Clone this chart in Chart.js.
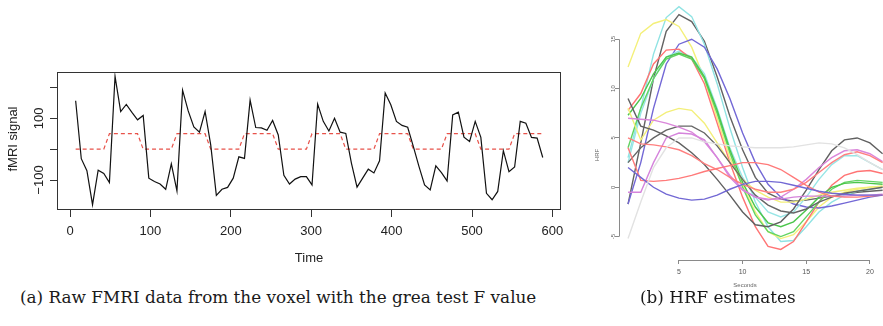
<!DOCTYPE html>
<html>
<head>
<meta charset="utf-8">
<script src="https://cdn.jsdelivr.net/npm/chart.js@4.4.1/dist/chart.umd.min.js"></script>
<style>
  html, body { margin: 0; padding: 0; background: #fff; }
  #wrap { position: relative; width: 883px; height: 326px; overflow: hidden; background: #fff; }
  #cA { position: absolute; left: 0; top: 0; }
  #cB { position: absolute; left: 590px; top: 0; filter: blur(0.55px); }
  .cap { position: absolute; font-family: "DejaVu Serif", serif; color: #1a1a1a; white-space: nowrap; line-height: 1; }
</style>
</head>
<body>
<div id="wrap">
  <canvas id="cA" width="600" height="280"></canvas>
  <canvas id="cB" width="293" height="300"></canvas>
  <div class="cap" id="capA" style="left:20px; top:289px;">(a) Raw FMRI data from the voxel with the grea test F value</div>
  <div class="cap" id="capB" style="left:640px; top:289px;">(b) HRF estimates</div>
</div>
<script>
// ---------- Panel (a) data ----------
const times = [7,14,21,28,35,42,49,56,63,70,77,84,91,98,105,112,119,126,133,140,147,154,161,168,
  175,182,189,196,203,210,217,224,231,238,245,252,259,266,273,280,287,294,301,308,315,322,329,336,
  343,350,357,364,371,378,385,392,399,406,413,420,427,434,441,448,455,462,469,476,483,490,497,504,
  511,518,525,532,539,546,553,560,567,574,581,588];
const fmriSignal = [157,-31,-70,-180,-68,-79,-108,236,122,145,119,95,109,-94,-105,-113,-130,-48,-135,191,
  124,72,55,122,14,-150,-130,-124,-94,-25,-30,159,70,69,61,93,46,-85,-113,-97,-89,-89,-116,146,
  90,59,100,55,51,-45,-123,-94,-65,-77,-38,182,144,90,77,71,9,-56,-116,-132,-54,-76,-103,111,
  120,39,25,90,38,-143,-164,-137,-5,-73,-58,90,84,38,36,-27];
const stimulus = [0,0,0,0,0,0,50,50,50,50,50,50, 0,0,0,0,0,0,50,50,50,50,50,50,
  0,0,0,0,0,0,50,50,50,50,50,50, 0,0,0,0,0,0,50,50,50,50,50,50,
  0,0,0,0,0,0,50,50,50,50,50,50, 0,0,0,0,0,0,50,50,50,50,50,50,
  0,0,0,0,0,0,50,50,50,50,50,50];
const timeTicks = [0,100,200,300,400,500,600];
const signalTicks = [-100,0,100,200];
const signalTickLabels = {"100":"100","-100":"\u2212100"};

// ---------- Panel (b) data ----------
const seconds = [1,2,3,4,5,6,7,8,9,10,11,12,13,14,15,16,17,18,19,20,21];
const hrfYellowTall = [12.2,15.6,16.6,17.0,16.3,14.2,11.0,7.0,3.0,0.2,-2.5,-4.5,-5.2,-4.8,-3.5,-2.0,-1.0,-0.5,-0.2,0.0,0.1];
const hrfYellowSmall = [8.0,4.8,6.8,7.6,8.0,7.8,6.5,4.5,2.5,0.8,-0.3,-1.0,-1.5,-1.5,-1.2,-0.8,-0.5,-0.3,-0.1,0.0,0.1];
const hrfCyanTall = [3.0,8.0,13.5,17.2,18.3,17.3,14.5,10.5,6.0,2.0,-1.5,-4.0,-5.5,-5.4,-4.0,-2.5,-1.5,-0.8,-0.4,-0.2,0.0];
const hrfCyanMid = [2.5,7.5,11.0,13.2,13.8,13.2,11.5,8.0,4.0,1.0,-1.0,-2.5,-3.0,-2.5,-1.0,0.8,2.3,3.2,3.2,2.5,1.8];
const hrfBlackTall = [-1.7,4.5,11.0,15.8,17.5,16.8,14.8,11.2,7.2,3.8,1.0,-0.6,-1.2,-1.4,-1.3,-1.1,-0.9,-0.7,-0.5,-0.4,-0.3];
const hrfBlackHigh = [9.0,6.2,5.8,5.2,4.5,3.5,2.3,0.8,-0.8,-2.5,-3.8,-4.0,-3.5,-2.2,-0.3,1.8,3.7,4.8,5.0,4.5,3.4];
const hrfBlackSmall = [2.5,4.0,5.0,5.8,6.2,6.2,5.5,4.2,2.5,0.8,-0.8,-1.8,-2.4,-2.6,-2.2,-1.5,-1.0,-0.6,-0.4,-0.2,0.0];
const hrfRedTall = [7.8,9.5,12.5,13.9,14.0,13.0,10.5,6.5,2.5,-1.0,-4.0,-6.0,-6.3,-5.5,-3.5,-1.5,0.2,1.2,1.6,1.7,1.4];
const hrfRedFlat = [5.0,4.4,4.3,4.1,3.8,3.2,2.4,1.8,1.0,0.3,-0.2,-0.5,-0.5,-0.2,0.5,1.5,2.5,3.3,3.6,3.2,2.5];
const hrfRedHump = [4.0,0.7,0.6,0.7,0.9,1.2,1.6,1.9,2.2,2.5,2.5,2.3,1.8,1.0,0.2,-0.5,-0.9,-1.0,-1.0,-0.9,-0.8];
const hrfGreenA = [4.0,8.0,11.0,13.0,13.5,13.0,11.0,7.5,3.5,0.0,-2.8,-4.5,-5.0,-4.5,-3.0,-1.5,-0.2,0.5,0.7,0.6,0.5];
const hrfGreenB = [7.3,9.0,11.5,13.2,13.6,13.2,11.2,7.8,3.8,0.5,-2.0,-3.6,-4.0,-3.5,-2.3,-1.0,0.0,0.4,0.5,0.4,0.3];
const hrfBlueTall = [-1.7,2.5,8.0,12.5,14.5,15.0,14.2,12.0,9.0,5.5,2.5,0.3,-1.0,-1.7,-2.0,-2.1,-1.9,-1.6,-1.3,-1.0,-0.8];
const hrfBlueSmall = [2.0,1.0,0.0,-0.7,-1.1,-1.3,-1.2,-0.8,-0.2,0.3,0.6,0.6,0.5,0.2,-0.1,-0.4,-0.6,-0.7,-0.8,-0.8,-0.8];
const hrfMagentaA = [7.0,6.9,6.8,6.5,6.1,5.6,4.6,3.0,1.2,-0.2,-1.0,-1.3,-1.0,-0.2,0.8,2.0,3.0,3.7,3.8,3.4,2.6];
const hrfMagentaB = [-0.5,-0.5,2.5,5.0,5.5,5.4,4.8,3.0,1.0,-0.3,-1.0,-1.2,-1.2,-1.0,-0.9,-0.9,-0.9,-0.9,-0.8,-0.8,-0.7];
const hrfLightGray = [-5.2,-1.5,2.0,4.0,5.0,5.0,4.6,4.4,4.2,4.1,4.0,4.0,4.0,4.1,4.3,4.5,4.4,4.0,3.3,2.5,1.8];
const secondsTicks = [5,10,15,20];
const hrfTicks = [-5,0,5,10,15];

// ---------- Panel (a) chart ----------
const panelA = {
  id: 'panelA',
  afterDraw(chart) {
    const {ctx, chartArea: a} = chart;
    ctx.save();
    ctx.strokeStyle = '#333';
    ctx.lineWidth = 1;
    ctx.strokeRect(a.left + 0.5, a.top + 0.5, a.right - a.left - 1, a.bottom - a.top - 1);
    ctx.fillStyle = '#222';
    ctx.font = '13px "Liberation Sans", Arial, sans-serif';
    ctx.textAlign = 'center';
    ctx.textBaseline = 'middle';
    const ys = chart.scales.y;
    Object.keys(signalTickLabels).forEach(k => {
      const py = ys.getPixelForValue(Number(k));
      ctx.save();
      ctx.translate(39, py);
      ctx.rotate(-Math.PI / 2);
      ctx.fillText(signalTickLabels[k], 0, 0);
      ctx.restore();
    });
    ctx.save();
    ctx.translate(13, 139);
    ctx.rotate(-Math.PI / 2);
    ctx.fillText('fMRI signal', 0, 0);
    ctx.restore();
    ctx.fillText('Time', 309, 258);
    ctx.restore();
  }
};

new Chart(document.getElementById('cA'), {
  type: 'line',
  data: {
    datasets: [
      { data: times.map((t, i) => ({x: t, y: fmriSignal[i]})), borderColor: '#111', borderWidth: 1.2,
        pointRadius: 0, tension: 0, fill: false },
      { data: times.map((t, i) => ({x: t, y: stimulus[i]})), borderColor: '#e8524a', borderWidth: 1.2,
        borderDash: [4, 3], pointRadius: 0, tension: 0, fill: false }
    ]
  },
  options: {
    responsive: false, animation: false, devicePixelRatio: 1,
    layout: { padding: { top: 72, right: 39, left: 0, bottom: 0 } },
    plugins: { legend: { display: false }, tooltip: { enabled: false } },
    scales: {
      x: {
        type: 'linear', min: -16.2, max: 610.7,
        afterBuildTicks: s => { s.ticks = timeTicks.map(v => ({value: v})); },
        afterFit: s => { s.height = 70; },
        ticks: { color: '#222', font: { family: '"Liberation Sans", Arial, sans-serif', size: 13 }, padding: 7, maxRotation: 0, autoSkip: false },
        grid: { display: true, drawOnChartArea: false, drawTicks: true, tickLength: 7, color: '#333', lineWidth: 1 },
        border: { display: false }
      },
      y: {
        type: 'linear', min: -197.2, max: 250,
        afterBuildTicks: s => { s.ticks = signalTicks.map(v => ({value: v})); },
        afterFit: s => { s.width = 57; },
        ticks: { display: false },
        grid: { display: true, drawOnChartArea: false, drawTicks: true, tickLength: 7, color: '#333', lineWidth: 1 },
        border: { display: false }
      }
    }
  },
  plugins: [panelA]
});

// ---------- Panel (b) chart ----------
const axisColor = '#8a8a8a';
const panelB = {
  id: 'panelB',
  afterDraw(chart) {
    const {ctx} = chart;
    const xs = chart.scales.x, ys = chart.scales.y;
    ctx.save();
    ctx.strokeStyle = axisColor;
    ctx.lineWidth = 1;
    const axY = Math.round(ys.bottom) + 0.5;
    ctx.beginPath();
    ctx.moveTo(xs.getPixelForValue(secondsTicks[0]), axY);
    ctx.lineTo(xs.getPixelForValue(secondsTicks[secondsTicks.length - 1]), axY);
    ctx.stroke();
    const axX = Math.round(xs.left) + 0.5;
    ctx.beginPath();
    ctx.moveTo(axX, ys.getPixelForValue(hrfTicks[0]));
    ctx.lineTo(axX, ys.getPixelForValue(hrfTicks[hrfTicks.length - 1]));
    ctx.stroke();
    ctx.fillStyle = '#666';
    ctx.font = '6px "Liberation Sans", Arial, sans-serif';
    ctx.textAlign = 'center';
    ctx.textBaseline = 'middle';
    hrfTicks.forEach(v => {
      ctx.save();
      ctx.translate(axX - 6.5, ys.getPixelForValue(v));
      ctx.rotate(-Math.PI / 2);
      ctx.fillText(String(v), 0, 0);
      ctx.restore();
    });
    ctx.save();
    ctx.translate(7, 155);
    ctx.rotate(-Math.PI / 2);
    ctx.fillText('HRF', 0, 0);
    ctx.restore();
    ctx.fillText('Seconds', 745 - 590, 285);
    ctx.restore();
  }
};

const hrfSeries = [
  [hrfLightGray, '#e2e2e2'],
  [hrfBlueSmall, '#7268d4'],
  [hrfRedHump, '#ff7a7a'],
  [hrfRedFlat, '#ff8080'],
  [hrfMagentaB, '#d584dc'],
  [hrfMagentaA, '#da86da'],
  [hrfBlackSmall, '#666666'],
  [hrfBlackHigh, '#606060'],
  [hrfYellowSmall, '#f3ef7a'],
  [hrfGreenB, '#4cc64c'],
  [hrfGreenA, '#62d462'],
  [hrfRedTall, '#ff7474'],
  [hrfCyanMid, '#98e6e6'],
  [hrfBlueTall, '#7368d6'],
  [hrfYellowTall, '#f4f07a'],
  [hrfCyanTall, '#8fe3e3'],
  [hrfBlackTall, '#636363']
];

new Chart(document.getElementById('cB'), {
  type: 'line',
  data: {
    datasets: hrfSeries.map(([arr, col]) => ({
      data: seconds.map((s, i) => ({x: s, y: arr[i]})),
      borderColor: col, borderWidth: 1.4, pointRadius: 0, tension: 0, fill: false
    }))
  },
  options: {
    responsive: false, animation: false, devicePixelRatio: 1,
    layout: { padding: 0 },
    plugins: { legend: { display: false }, tooltip: { enabled: false } },
    scales: {
      x: {
        type: 'linear', min: 0.29, max: 21.03,
        afterBuildTicks: s => { s.ticks = secondsTicks.map(v => ({value: v})); },
        afterFit: s => { s.height = 40; },
        ticks: { color: '#555', font: { family: '"Liberation Sans", Arial, sans-serif', size: 7 }, padding: 4, maxRotation: 0, autoSkip: false },
        grid: { display: true, drawOnChartArea: false, drawTicks: true, tickLength: 4, color: axisColor, lineWidth: 1 },
        border: { display: false }
      },
      y: {
        type: 'linear', min: -7.37, max: 18.98,
        afterBuildTicks: s => { s.ticks = hrfTicks.map(v => ({value: v})); },
        afterFit: s => { s.width = 29; },
        ticks: { display: false },
        grid: { display: true, drawOnChartArea: false, drawTicks: true, tickLength: 4, color: axisColor, lineWidth: 1 },
        border: { display: false }
      }
    }
  },
  plugins: [panelB]
});

// fit caption font size to reference width
(function () {
  const capA = document.getElementById('capA'), capB = document.getElementById('capB');
  const c = document.createElement('canvas').getContext('2d');
  c.font = '100px "DejaVu Serif"';
  const w = c.measureText(capA.textContent).width;
  let size = 100 * 517 / w;
  size = Math.max(12, Math.min(18, size));
  capA.style.fontSize = size + 'px';
  capB.style.fontSize = size + 'px';
})();
</script>
</body>
</html>
